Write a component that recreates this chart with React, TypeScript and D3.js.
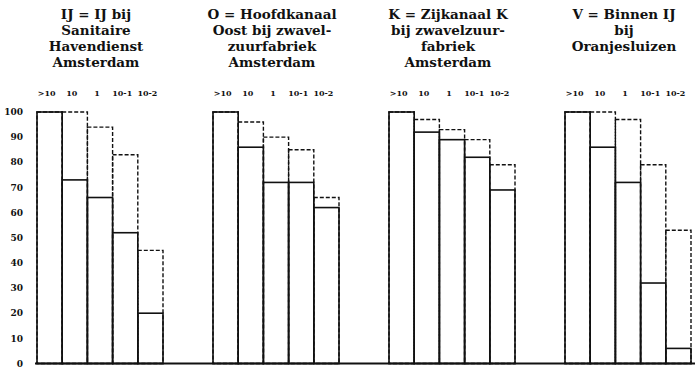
import React from "react";
import * as d3 from "d3";

// Particle-size classes (µ) along the x axis of every panel
const bins = [">10", "10", "1", "10-1", "10-2"];

// Sampling sites, each with its multi-line caption
const sites = ["IJ", "O", "K", "V"];
const captions: string[][] = [
  ["IJ = IJ bij", "Sanitaire", "Havendienst", "Amsterdam"],
  ["O = Hoofdkanaal", "Oost bij zwavel-", "zuurfabriek", "Amsterdam"],
  ["K = Zijkanaal K", "bij zwavelzuur-", "fabriek", "Amsterdam"],
  ["V = Binnen IJ", "bij", "Oranjesluizen"],
];

// Percentages drawn as solid bars
const solidIJ = [100, 73, 66, 52, 20];
const solidO = [100, 86, 72, 72, 62];
const solidK = [100, 92, 89, 82, 69];
const solidV = [100, 86, 72, 32, 6];

// Percentages drawn as dashed outlines
const dashedIJ = [100, 100, 94, 83, 45];
const dashedO = [100, 96, 90, 85, 66];
const dashedK = [100, 97, 93, 89, 79];
const dashedV = [100, 100, 97, 79, 53];

const yTicks = [0, 10, 20, 30, 40, 50, 60, 70, 80, 90, 100];

const solidBySite = [solidIJ, solidO, solidK, solidV];
const dashedBySite = [dashedIJ, dashedO, dashedK, dashedV];

const W = 695;
const H = 370;

export default function App() {
  const x = d3
    .scaleBand<string>()
    .domain(sites)
    .range([37, 691])
    .paddingInner(50 / 176)
    .paddingOuter(0);

  const xb = d3
    .scaleBand<string>()
    .domain(bins)
    .range([0, x.bandwidth()])
    .padding(0);

  const y = d3.scaleLinear().domain([0, 100]).range([363.5, 112]);

  const serif = "'DejaVu Serif', serif";

  return (
    <svg
      width={W}
      height={H}
      viewBox={`0 0 ${W} ${H}`}
      style={{ position: "absolute", left: 0, top: 0, background: "#fff" }}
    >
      <rect width={W} height={H} fill="#fff" />

      {/* value axis labels */}
      <g style={{ fontFamily: serif, fontWeight: 700, fontSize: 9 }} fill="#111">
        {yTicks.map((t) => (
          <text key={t} x={23} y={y(t)} dy="0.35em" textAnchor="end">
            {t}
          </text>
        ))}
      </g>

      {sites.map((s, i) => {
        const x0 = x(s)!;
        const cx = x0 + x.bandwidth() / 2;
        const solid = solidBySite[i];
        const dashed = dashedBySite[i];
        return (
          <g key={s}>
            {/* caption */}
            <g
              style={{ fontFamily: serif, fontWeight: 700, fontSize: 13.5 }}
              fill="#111"
              textAnchor="middle"
            >
              {captions[i].map((line, k) => (
                <text key={k} x={cx - 4} y={18.5 + k * 16.3}>
                  {line}
                </text>
              ))}
            </g>

            {/* class labels */}
            <g
              style={{ fontFamily: serif, fontWeight: 700, fontSize: 8 }}
              fill="#111"
              textAnchor="middle"
            >
              {bins.map((b) => (
                <text key={b} x={x0 + xb(b)! + xb.bandwidth() / 2 - 3} y={96}>
                  {b}
                </text>
              ))}
            </g>

            {/* dashed outlines */}
            {bins.map((b, j) => (
              <rect
                key={"d" + b}
                x={x0 + xb(b)!}
                y={y(dashed[j])}
                width={xb.bandwidth()}
                height={y(0) - y(dashed[j])}
                fill="none"
                stroke="#111"
                strokeWidth={1.4}
                strokeDasharray="4 2"
              />
            ))}

            {/* solid bars */}
            {bins.map((b, j) => (
              <rect
                key={"s" + b}
                x={x0 + xb(b)!}
                y={y(solid[j])}
                width={xb.bandwidth()}
                height={y(0) - y(solid[j])}
                fill="none"
                stroke="#111"
                strokeWidth={1.6}
              />
            ))}
          </g>
        );
      })}

      {/* baseline */}
      <line x1={35} x2={W} y1={y(0)} y2={y(0)} stroke="#111" strokeWidth={1.8} />
    </svg>
  );
}
